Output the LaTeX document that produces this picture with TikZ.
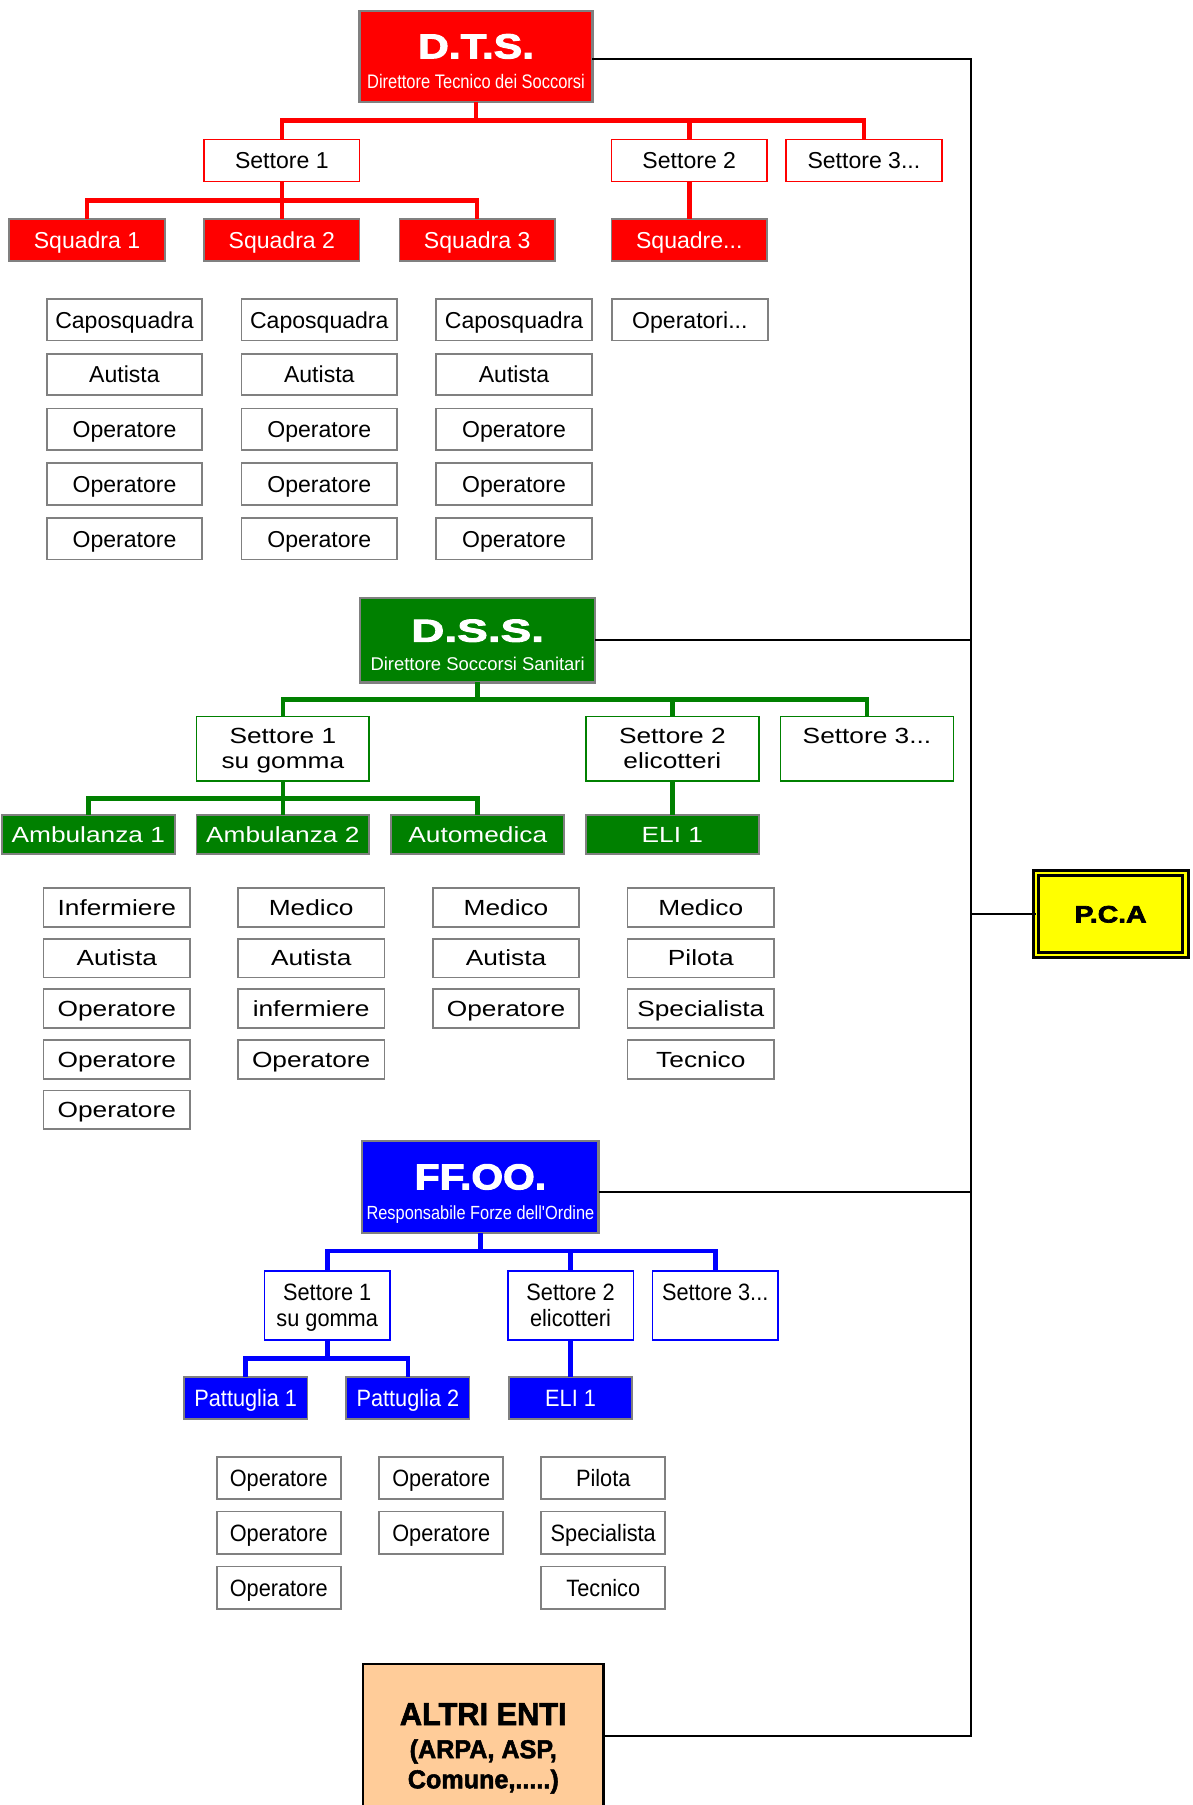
\documentclass[tikz,border=0pt]{standalone}
\usepackage{fontspec}
\setmainfont{Liberation Sans}
\newfontfamily\fRed{Liberation Sans}
\newfontfamily\fGreen[FakeStretch=1.2]{Liberation Sans}
\newfontfamily\fBlue[FakeStretch=0.92]{Liberation Sans}
\newfontfamily\fSubA[FakeStretch=0.84]{Liberation Sans}
\newfontfamily\fSubC[FakeStretch=0.86]{Liberation Sans}
\newfontfamily\fTitA[FakeStretch=1.23,FakeBold=3]{Liberation Sans Bold}
\newfontfamily\fTitB[FakeStretch=1.45,FakeBold=3]{Liberation Sans Bold}
\newfontfamily\fTitC[FakeStretch=1.14,FakeBold=3]{Liberation Sans Bold}
\newfontfamily\fTitP[FakeStretch=1.2,FakeBold=3]{Liberation Sans Bold}
\newfontfamily\fAlt[FakeBold=2,FakeStretch=0.97]{Liberation Sans Bold}
\definecolor{cred}{HTML}{FF0000}
\definecolor{cgreen}{HTML}{008000}
\definecolor{cblue}{HTML}{0000FF}
\definecolor{cgray}{HTML}{808080}
\definecolor{cyel}{HTML}{FFFF00}
\definecolor{corange}{HTML}{FFCC99}
\tikzset{
  base/.style={rectangle, inner sep=0pt, outer sep=0pt, align=center},
  one/.style={text height=#1, text depth=0pt},
  sz/.style 2 args={minimum width=#1, minimum height=#2},
  headbox/.style={base, draw=cgray, line width=2pt},
  txt/.style={inner sep=0pt, outer sep=0pt, anchor=base, text=white},
  % red
  rfont/.style={font=\fRed\fontsize{20}{24}\selectfont},
  rset/.style={base, one=14.3pt, rfont, draw=cred, fill=white, line width=1.5pt, sz={135}{36.5}},
  rsq/.style={base, one=14.3pt, rfont, draw=cgray, fill=cred, text=white, line width=1.5pt, sz={135}{36.5}},
  rmem/.style={base, one=14.3pt, rfont, draw=cgray, fill=white, line width=1.5pt, sz={135}{36}},
  rbus/.style={draw=cred, line width=4pt},
  % green
  gfont/.style={font=\fGreen\fontsize{19}{21.6}\selectfont},
  gset/.style={base, text depth=0pt, gfont, draw=cgreen, fill=white, line width=1.5pt, sz={150}{55.6}},
  gsq/.style={base, one=13.6pt, gfont, draw=cgray, fill=cgreen, text=white, line width=1.5pt, sz={150}{34}},
  gmem/.style={base, one=13.6pt, gfont, draw=cgray, fill=white, line width=1.5pt, sz={127}{33.6}},
  gbus/.style={draw=cgreen, line width=4pt},
  % blue
  bfont/.style={font=\fBlue\fontsize{20.5}{23.2}\selectfont},
  bset/.style={base, text depth=0pt, bfont, draw=cblue, fill=white, line width=1.5pt, sz={109}{60}},
  bsq/.style={base, one=14.7pt, bfont, draw=cgray, fill=cblue, text=white, line width=1.5pt, sz={107}{36.2}},
  bmem/.style={base, one=14.7pt, bfont, draw=cgray, fill=white, line width=1.5pt, sz={107.5}{36.5}},
  bbus/.style={draw=cblue, line width=4pt},
  blk/.style={draw=black, line width=1.8pt},
}
\begin{document}
\begin{tikzpicture}[x=1pt,y=-1pt]
\fill[white] (0,0) rectangle (1035,1566);
\useasboundingbox (0,0) rectangle (1035,1566);

% ---------------- RED: D.T.S.
\node[headbox, fill=cred, sz={202}{79}] (dts) at (413,48.8) {};
\node[txt, font=\fTitA\fontsize{30}{30}\selectfont] (dtsT) at (413,50.6) {D.T.S.};
\node[txt, font=\fSubA\fontsize{17}{17}\selectfont] (dtsS) at (413,76.6) {Direttore Tecnico dei Soccorsi};

\node[rset] (rs1) at (244.5,139.3) {Settore 1};
\node[rset] (rs2) at (598,139.3) {Settore 2};
\node[rset] (rs3) at (749.5,139.3) {Settore 3...};

\node[rsq] (rq1) at (75.5,208.2) {Squadra 1};
\node[rsq] (rq2) at (244.5,208.2) {Squadra 2};
\node[rsq] (rq3) at (414,208.2) {Squadra 3};
\node[rsq] (rq4) at (598,208.2) {Squadre...};

\foreach \c/\x in {a/108,b/277,c/446}{
  \foreach \t [count=\i] in {Caposquadra,Autista,Operatore,Operatore,Operatore}
    \node[rmem] (rm\c\i) at (\x,{277.5+47.5*(\i-1)}) {\t};
}
\node[rmem] (rmd1) at (598.5,277.5) {Operatori...};

\draw[rbus] (dts.south) -- ++(0,16) -| (rs1.north);
\draw[rbus] (dts.south) -- ++(0,16) -| (rs2.north);
\draw[rbus] (dts.south) -- ++(0,16) -| (rs3.north);
\draw[rbus] (rs1.south) -- ++(0,16.5) -| (rq1.north);
\draw[rbus] (rs1.south) -- (rq2.north);
\draw[rbus] (rs1.south) -- ++(0,16.5) -| (rq3.north);
\draw[rbus] (rs2.south) -- (rq4.north);

% ---------------- GREEN: D.S.S.
\node[headbox, fill=cgreen, sz={204}{73}] (dss) at (414.4,555.5) {};
\node[txt, font=\fTitB\fontsize{27.5}{27.5}\selectfont] (dssT) at (414.4,556.7) {D.S.S.};
\node[txt, font=\fRed\fontsize{16}{16}\selectfont] (dssS) at (414.4,581.3) {Direttore Soccorsi Sanitari};

\node[gset] (gs1) at (245.4,649.5) {Settore 1\\su gomma};
\node[gset] (gs2) at (583.3,649.5) {Settore 2\\elicotteri};
\node[gset] (gs3) at (752.2,649.5) {Settore 3...\\\phantom{elicotteri}};

\node[gsq] (ga1) at (76.6,724) {Ambulanza 1};
\node[gsq] (ga2) at (245.4,724) {Ambulanza 2};
\node[gsq] (ga3) at (414.5,724) {Automedica};
\node[gsq] (ga4) at (583.3,724) {ELI 1};

\foreach \c/\x/\L in {a/101.3/{Infermiere,Autista,Operatore,Operatore,Operatore},
                      b/270/{Medico,Autista,infermiere,Operatore},
                      c/439/{Medico,Autista,Operatore},
                      d/608/{Medico,Pilota,Specialista,Tecnico}}{
  \foreach \t [count=\i] in \L
    \node[gmem] (gm\c\i) at (\x,{787.2+43.95*(\i-1)}) {\t};
}

\draw[gbus] (dss.south) -- ++(0,14.7) -| (gs1.north);
\draw[gbus] (dss.south) -- ++(0,14.7) -| (gs2.north);
\draw[gbus] (dss.south) -- ++(0,14.7) -| (gs3.north);
\draw[gbus] (gs1.south) -- ++(0,15.3) -| (ga1.north);
\draw[gbus] (gs1.south) -- (ga2.north);
\draw[gbus] (gs1.south) -- ++(0,15.3) -| (ga3.north);
\draw[gbus] (gs2.south) -- (ga4.north);

% ---------------- BLUE: FF.OO.
\node[headbox, fill=cblue, sz={205}{80}] (ffoo) at (416.8,1029.9) {};
\node[txt, font=\fTitC\fontsize{31}{31}\selectfont] (ffooT) at (416.8,1031.8) {FF.OO.};
\node[txt, font=\fSubC\fontsize{16.5}{16.5}\selectfont] (ffooS) at (416.8,1057.8) {Responsabile Forze dell'Ordine};

\node[bset] (bs1) at (283.9,1132.5) {Settore 1\\su gomma};
\node[bset] (bs2) at (495,1132.5) {Settore 2\\elicotteri};
\node[bset] (bs3) at (620.5,1132.5) {Settore 3...\\\phantom{elicotteri}};

\node[bsq] (bp1) at (213.2,1213) {Pattuglia 1};
\node[bsq] (bp2) at (353.9,1213) {Pattuglia 2};
\node[bsq] (bp3) at (495,1213) {ELI 1};

\foreach \c/\x/\L in {a/241.8/{Operatore,Operatore,Operatore},
                      b/382.8/{Operatore,Operatore},
                      c/523.4/{Pilota,Specialista,Tecnico}}{
  \foreach \t [count=\i] in \L
    \node[bmem] (bm\c\i) at (\x,{1282+47.7*(\i-1)}) {\t};
}

\draw[bbus] (ffoo.south) -- ++(0,15.3) -| (bs1.north);
\draw[bbus] (ffoo.south) -- ++(0,15.3) -| (bs2.north);
\draw[bbus] (ffoo.south) -- ++(0,15.3) -| (bs3.north);
\draw[bbus] (bs1.south) -- ++(0,15.9) -| (bp1.north);
\draw[bbus] (bs1.south) -- ++(0,15.9) -| (bp2.north);
\draw[bbus] (bs2.south) -- (bp3.north);

% ---------------- ALTRI ENTI
\node[base, draw=black, fill=corange, line width=1.8pt, sz={208.6}{140}, anchor=north] (alt) at (419.3,1444) {};
\node[txt, text=black, font=\fAlt\fontsize{27.5}{27.5}\selectfont] (altT1) at (419.3,1496.6) {ALTRI ENTI};
\node[txt, text=black, font=\fAlt\fontsize{22.5}{22.5}\selectfont] (altT2) at (419.3,1525.4) {(ARPA, ASP,};
\node[txt, text=black, font=\fAlt\fontsize{22.5}{22.5}\selectfont] (altT3) at (419.3,1551.5) {Comune,.....)};

% ---------------- P.C.A
\node[base, one=14.6pt, draw=black, double=cyel, double distance=2pt, line width=2.6pt, fill=cyel,
      sz={129.8}{70.8}, font=\fTitP\fontsize{20.5}{20.5}\selectfont] (pca) at (963.5,793) {P.C.A};

% ---------------- black connectors
\coordinate (vbus) at (842.5,0);
\draw[blk] ([yshift=-2pt]dts.east) -- ([yshift=-2pt]dts.east -| vbus) -- ([yshift=8pt]alt.east -| vbus) -- ([yshift=8pt]alt.east);
\draw[blk] (dss.east) -- (dss.east -| vbus);
\draw[blk] ([yshift=-4.5pt]ffoo.east) -- ([yshift=-4.5pt]ffoo.east -| vbus);
\draw[blk] (pca.west) -- (pca.west -| vbus);
\end{tikzpicture}
\end{document}
